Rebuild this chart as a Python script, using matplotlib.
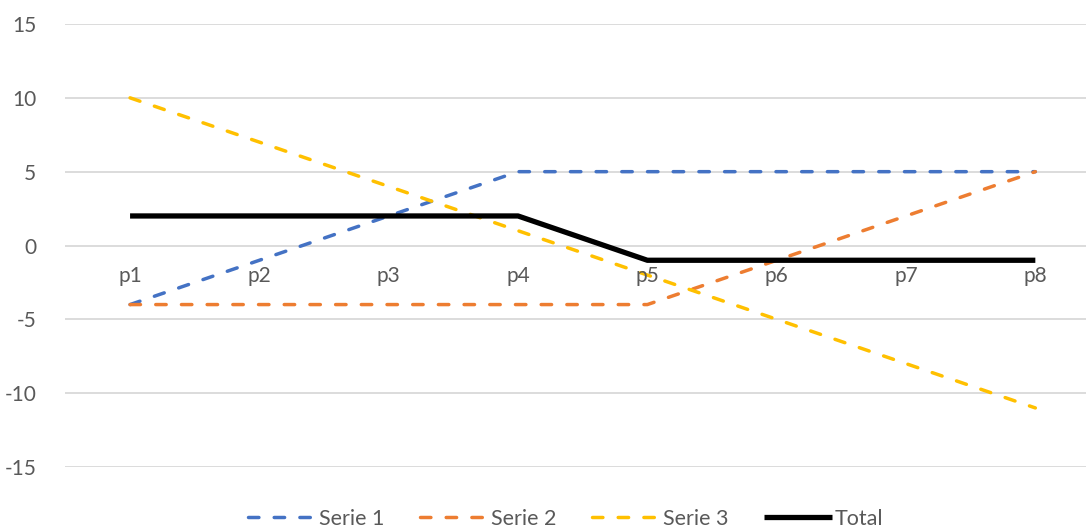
import matplotlib
matplotlib.use("Agg")
import matplotlib.pyplot as plt

# chart data
categories = ["p1", "p2", "p3", "p4", "p5", "p6", "p7", "p8"]
serie1 = [-4, -1, 2, 5, 5, 5, 5, 5]
serie2 = [-4, -4, -4, -4, -4, -1, 2, 5]
serie3 = [10, 7, 4, 1, -2, -5, -8, -11]
total = [2, 2, 2, 2, -1, -1, -1, -1]
yticks = [-15, -10, -5, 0, 5, 10, 15]

plt.rcParams['font.family'] = ['Lato', 'DejaVu Sans']
textcol = "#595959"
fs = 15

fig = plt.figure(figsize=(10.86, 5.26), dpi=100)
ax = fig.add_axes([65.4 / 1086, 59 / 526, (1100 - 65.4) / 1086, 443 / 526])

x = list(range(len(categories)))
dash = dict(linestyle=(0, (3.0, 4.4)), dash_capstyle='round', linewidth=2.5)
ax.plot(x, serie1, color="#4472C4", label="Serie 1", **dash)
ax.plot(x, serie2, color="#ED7D31", label="Serie 2", **dash)
ax.plot(x, serie3, color="#FFC000", label="Serie 3", **dash)
ax.plot(x, total, color="black", linewidth=3.8, solid_capstyle='butt', label="Total")

ax.set_xlim(-0.5, len(categories) - 0.5)
ax.set_ylim(-15, 15)
ax.set_yticks(yticks)
ax.set_yticklabels([str(v) for v in yticks], color=textcol, fontsize=fs)
ax.tick_params(axis='y', length=0, pad=21)
ax.set_xticks([])
ax.grid(axis='y', color="#D9D9D9", linewidth=1.3)
ax.set_axisbelow(True)
for s in ax.spines.values():
    s.set_visible(False)

# category labels sit just under the zero line
for i, c in enumerate(categories):
    ax.annotate(c, xy=(i, 0), xytext=(0, -30), textcoords='offset pixels',
                ha='center', va='center', color=textcol, fontsize=fs)

leg = fig.legend(loc='center', bbox_to_anchor=(0.521, 7 / 526), ncol=4,
                 frameon=False, fontsize=15.5, handlelength=3.15,
                 columnspacing=1.65, handletextpad=0.15)
for t in leg.get_texts():
    t.set_color(textcol)

fig.savefig("out.png", dpi=100)
